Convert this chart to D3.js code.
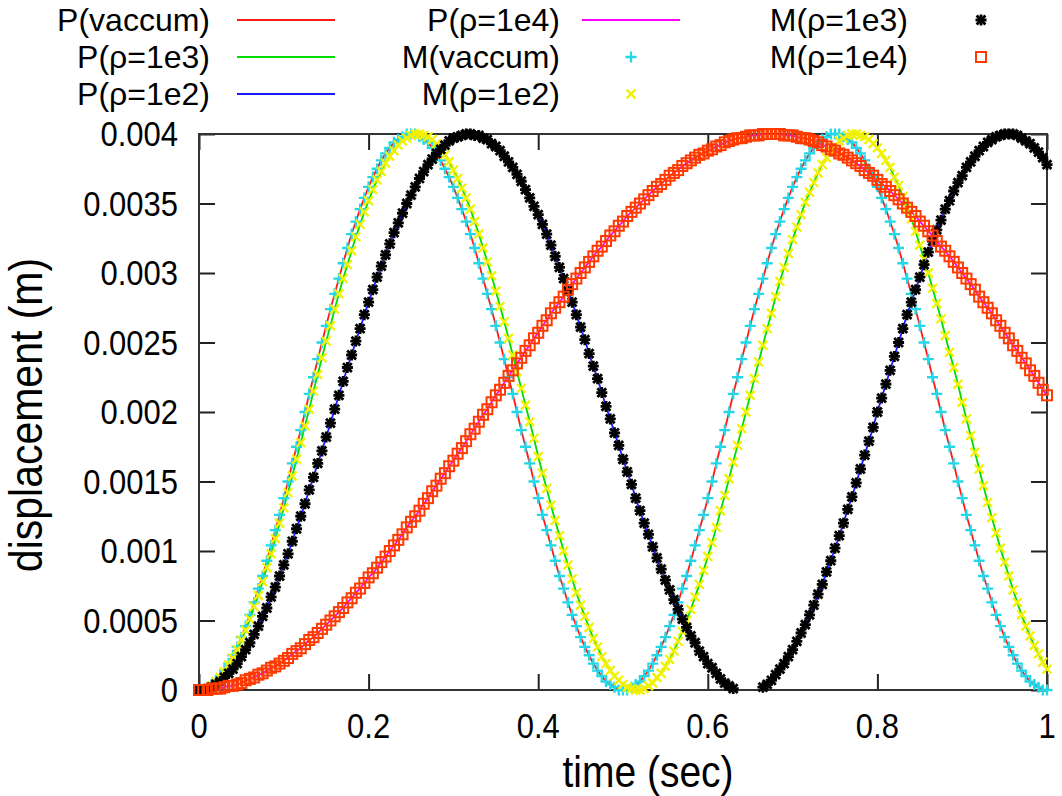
<!DOCTYPE html>
<html>
<head>
<meta charset="utf-8">
<title>displacement vs time</title>
<script src="https://cdn.jsdelivr.net/npm/d3@7"></script>
<style>
  body { margin: 0; background: #fff; }
  text { font-family: "Liberation Sans", Arial, sans-serif; fill: #000; }
</style>
</head>
<body>
<div id="my_dataviz"></div>
<script>

// time samples every 0.005 s from 0 to 1 s
var timeStep = 0.005;

// displacement, in mm (divided by 1000 before plotting)
// curve under the cyan "+" markers and the red line
var dispVacuum = [
  0.00,0.00,0.02,0.04,0.06,0.10,0.14,0.19,0.25,0.31,0.38,0.46,0.54,0.63,0.73,0.82,0.93,1.04,1.15,1.26,
  1.38,1.50,1.63,1.75,1.87,2.00,2.13,2.25,2.38,2.50,2.62,2.74,2.85,2.96,3.07,3.18,3.28,3.37,3.46,3.54,
  3.62,3.69,3.75,3.81,3.86,3.90,3.94,3.96,3.98,4.00,4.00,
  4.00,3.98,3.96,3.94,3.90,3.86,3.81,3.75,3.69,3.62,3.54,3.46,3.37,3.28,3.18,3.07,2.96,2.85,2.74,2.62,
  2.50,2.38,2.25,2.13,2.00,1.87,1.75,1.63,1.50,1.38,1.26,1.15,1.04,0.93,0.82,0.73,0.63,0.54,0.46,0.38,
  0.31,0.25,0.19,0.14,0.10,0.06,0.04,0.02,0.00,0.00,
  0.00,0.02,0.04,0.06,0.10,0.14,0.19,0.25,0.31,0.38,0.46,0.54,0.63,0.73,0.82,0.93,1.04,1.15,1.26,1.38,
  1.50,1.63,1.75,1.87,2.00,2.13,2.25,2.38,2.50,2.62,2.74,2.85,2.96,3.07,3.18,3.28,3.37,3.46,3.54,3.62,
  3.69,3.75,3.81,3.86,3.90,3.94,3.96,3.98,4.00,4.00,
  4.00,3.98,3.96,3.94,3.90,3.86,3.81,3.75,3.69,3.62,3.54,3.46,3.37,3.28,3.18,3.07,2.96,2.85,2.74,2.62,
  2.50,2.38,2.25,2.13,2.00,1.87,1.75,1.63,1.50,1.38,1.26,1.15,1.04,0.93,0.82,0.73,0.63,0.54,0.46,0.38,
  0.31,0.25,0.19,0.14,0.10,0.06,0.04,0.02,0.00,0.00
];

// curve under the yellow "x" markers and the green line
var dispRho1e2 = [
  0.00,0.00,0.01,0.03,0.06,0.09,0.13,0.18,0.23,0.29,0.36,
  0.43,0.51,0.60,0.68,0.78,0.88,0.98,1.09,1.20,1.31,
  1.42,1.54,1.66,1.78,1.90,2.02,2.15,2.27,2.39,2.51,
  2.62,2.74,2.85,2.96,3.06,3.16,3.26,3.35,3.44,3.52,
  3.60,3.67,3.73,3.79,3.84,3.88,3.92,3.95,3.97,3.99,
  4.00,4.00,3.99,3.98,3.96,3.93,3.89,3.85,3.80,3.74,
  3.68,3.61,3.54,3.46,3.37,3.28,3.18,3.08,2.98,2.87,
  2.76,2.65,2.53,2.41,2.29,2.17,2.05,1.93,1.81,1.68,
  1.56,1.45,1.33,1.22,1.11,1.00,0.90,0.80,0.70,0.61,
  0.53,0.45,0.37,0.31,0.24,0.19,0.14,0.10,0.07,0.04,
  0.02,0.01,0.00,0.00,0.01,0.03,0.05,0.09,0.12,0.17,
  0.22,0.28,0.35,0.42,0.50,0.58,0.67,0.76,0.86,0.96,
  1.06,1.17,1.29,1.40,1.52,1.64,1.76,1.88,2.00,2.12,
  2.24,2.36,2.48,2.60,2.71,2.83,2.94,3.04,3.14,3.24,
  3.33,3.42,3.51,3.58,3.65,3.72,3.78,3.83,3.88,3.91,
  3.95,3.97,3.99,4.00,4.00,3.99,3.98,3.96,3.93,3.90,
  3.86,3.81,3.76,3.69,3.63,3.55,3.47,3.39,3.30,3.20,
  3.10,3.00,2.89,2.78,2.67,2.55,2.43,2.32,2.20,2.07,
  1.95,1.83,1.71,1.59,1.47,1.35,1.24,1.13,1.02,0.92,
  0.82,0.72,0.63,0.54,0.46,0.39,0.32,0.26,0.20,0.15
];

// curve under the black "*" markers and the blue line
var dispRho1e3 = [
  0.00,0.00,0.01,0.02,0.04,0.06,0.09,0.12,0.15,0.19,0.24,
  0.29,0.34,0.40,0.46,0.53,0.59,0.67,0.74,0.82,0.90,
  0.98,1.07,1.16,1.25,1.34,1.44,1.53,1.63,1.72,1.82,
  1.92,2.02,2.12,2.22,2.32,2.41,2.51,2.60,2.70,2.79,
  2.88,2.97,3.05,3.13,3.21,3.29,3.36,3.43,3.50,3.56,
  3.62,3.68,3.73,3.78,3.82,3.86,3.89,3.92,3.95,3.97,
  3.98,3.99,4.00,4.00,3.99,3.99,3.97,3.96,3.93,3.91,
  3.88,3.84,3.80,3.76,3.71,3.66,3.60,3.54,3.48,3.42,
  3.35,3.28,3.20,3.12,3.04,2.96,2.87,2.79,2.70,2.61,
  2.52,2.42,2.33,2.24,2.14,2.04,1.95,1.85,1.76,1.66,
  1.57,1.48,1.38,1.29,1.20,1.12,1.03,0.95,0.87,0.79,
  0.72,0.65,0.58,0.51,0.45,0.39,0.34,0.28,0.24,0.19,
  0.16,0.12,0.08,0.05,0.03,0.01,-0.01,-0.02,-0.03,-0.03,
  -0.02,-0.01,0.02,0.04,0.07,0.11,0.15,0.19,0.24,0.29,
  0.35,0.41,0.47,0.54,0.61,0.69,0.76,0.85,0.93,1.02,
  1.11,1.20,1.30,1.39,1.49,1.59,1.69,1.79,1.89,2.00,
  2.10,2.20,2.30,2.40,2.50,2.60,2.70,2.79,2.88,2.97,
  3.06,3.15,3.23,3.31,3.38,3.46,3.52,3.59,3.65,3.70,
  3.76,3.80,3.84,3.88,3.91,3.94,3.96,3.98,3.99,4.00,
  4.00,4.00,3.99,3.97,3.95,3.93,3.90,3.87,3.83,3.78
];

// curve under the orange squares and the magenta line
var dispRho1e4 = [
  0.00,0.00,0.00,0.01,0.01,0.01,0.02,0.03,0.03,0.04,0.05,
  0.07,0.08,0.09,0.11,0.12,0.14,0.16,0.17,0.19,0.21,
  0.23,0.26,0.28,0.30,0.33,0.36,0.38,0.41,0.44,0.47,
  0.50,0.53,0.56,0.59,0.63,0.66,0.70,0.73,0.77,0.81,
  0.84,0.88,0.92,0.96,1.00,1.04,1.08,1.12,1.17,1.21,
  1.25,1.29,1.34,1.38,1.43,1.47,1.52,1.56,1.61,1.65,
  1.70,1.74,1.79,1.84,1.88,1.93,1.98,2.02,2.07,2.12,
  2.16,2.21,2.26,2.30,2.35,2.39,2.44,2.48,2.53,2.57,
  2.62,2.66,2.71,2.75,2.79,2.83,2.88,2.92,2.96,3.00,
  3.04,3.08,3.12,3.16,3.19,3.23,3.27,3.30,3.34,3.37,
  3.41,3.44,3.47,3.50,3.53,3.56,3.59,3.62,3.64,3.67,
  3.70,3.72,3.74,3.77,3.79,3.81,3.83,3.85,3.86,3.88,
  3.89,3.91,3.92,3.94,3.95,3.96,3.97,3.97,3.98,3.99,
  3.99,3.99,4.00,4.00,4.00,4.00,4.00,3.99,3.99,3.99,
  3.98,3.97,3.97,3.96,3.95,3.94,3.92,3.91,3.89,3.88,
  3.86,3.85,3.83,3.81,3.79,3.77,3.74,3.72,3.70,3.67,
  3.64,3.62,3.59,3.56,3.53,3.50,3.47,3.44,3.41,3.37,
  3.34,3.30,3.27,3.23,3.19,3.16,3.12,3.08,3.04,3.00,
  2.96,2.92,2.88,2.83,2.79,2.75,2.71,2.66,2.62,2.57,
  2.53,2.48,2.44,2.39,2.35,2.30,2.26,2.21,2.16,2.12
];

// tick labels
var xTicks = [0, 0.2, 0.4, 0.6, 0.8, 1];
var yTicks = [0, 0.0005, 0.001, 0.0015, 0.002, 0.0025, 0.003, 0.0035, 0.004];

// line series (legend column 1 and the first entry of column 2)
var lineSeries = [
  {label: "P(vaccum)", color: "#ff1a1a", data: dispVacuum},
  {label: "P(\u03c1=1e3)", color: "#00dd00", data: dispRho1e2},
  {label: "P(\u03c1=1e2)", color: "#1a1aff", data: dispRho1e3},
  {label: "P(\u03c1=1e4)", color: "#ff00ff", data: dispRho1e4}
];
// point series
var pointSeries = [
  {label: "M(vaccum)", color: "#22d8e8", shape: "plus", data: dispVacuum},
  {label: "M(\u03c1=1e2)", color: "#f2f200", shape: "cross", data: dispRho1e2},
  {label: "M(\u03c1=1e3)", color: "#000000", shape: "star", data: dispRho1e3},
  {label: "M(\u03c1=1e4)", color: "#ff3a00", shape: "square", data: dispRho1e4}
];

var W = 1062, H = 796;
var margin = {top: 134, right: 15, bottom: 106, left: 199},
    width = W - margin.left - margin.right,
    height = H - margin.top - margin.bottom;

var svg = d3.select("#my_dataviz")
  .append("svg")
    .attr("width", W)
    .attr("height", H);

var g = svg.append("g")
    .attr("transform", "translate(" + margin.left + "," + margin.top + ")");

var x = d3.scaleLinear().domain([0, 1]).range([0, width]);
var y = d3.scaleLinear().domain([0, 0.004]).range([height, 0]);

// turn a mm array into {t, v} points
function toPoints(arr) {
  return arr.map(function(d, i) { return {t: i * timeStep, v: d / 1000}; });
}

// text placed at (px,py); sy stretches it vertically (the picture's text is a bit tall)
function label(parent, px, py, str, size, anchor, rot, sy) {
  var tg = parent.append("g")
    .attr("transform", "translate(" + px + "," + py + ")" + (rot ? " rotate(" + rot + ")" : "") + " scale(1," + (sy || 1) + ")");
  tg.append("text")
    .attr("text-anchor", anchor)
    .attr("dy", "0.35em")
    .style("font-size", size + "px")
    .text(str);
  return tg;
}

// clip for the lines
svg.append("clipPath").attr("id", "plotclip")
  .append("rect").attr("width", width).attr("height", height);

// inward ticks on all four sides
var tickLen = 16;
var fmtY = function(d) { return d === 0 ? "0" : String(+d.toFixed(4)); };
var fmtX = function(d) { return String(+d.toFixed(1)); };

var axB = g.append("g").attr("transform", "translate(0," + height + ")")
  .call(d3.axisBottom(x).tickValues(xTicks).tickFormat("").tickSizeInner(-tickLen).tickSizeOuter(0));
var axT = g.append("g")
  .call(d3.axisTop(x).tickValues(xTicks).tickFormat("").tickSizeInner(-tickLen).tickSizeOuter(0));
var axL = g.append("g")
  .call(d3.axisLeft(y).tickValues(yTicks).tickFormat("").tickSizeInner(-tickLen).tickSizeOuter(0));
var axR = g.append("g").attr("transform", "translate(" + width + ",0)")
  .call(d3.axisRight(y).tickValues(yTicks).tickFormat("").tickSizeInner(-tickLen).tickSizeOuter(0));

[axB, axT, axL, axR].forEach(function(a) {
  a.select(".domain").remove();
  a.selectAll("line").attr("stroke", "#222").attr("stroke-width", 2);
  a.selectAll("text").remove();
});

// tick labels through the scales
xTicks.forEach(function(t) {
  label(g, x(t), height + 36, fmtX(t), 31, "middle", 0, 1.12);
});
yTicks.forEach(function(t) {
  label(g, -21, y(t), fmtY(t), 31, "end", 0, 1.12);
});

// frame
g.append("rect")
  .attr("width", width).attr("height", height)
  .attr("fill", "none").attr("stroke", "#333").attr("stroke-width", 2);

// axis titles
label(svg, 648, 772, "time (sec)", 39, "middle", 0, 1.12);
label(svg, 26, 415, "displacement (m)", 41, "middle", -90, 1.12);

// lines
var line = d3.line()
  .x(function(d) { return x(d.t); })
  .y(function(d) { return y(d.v); });

var plot = g.append("g");
plot.append("g").attr("clip-path", "url(#plotclip)")
  .selectAll("path")
  .data(lineSeries)
  .enter().append("path")
    .attr("fill", "none")
    .attr("stroke", function(d) { return d.color; })
    .attr("stroke-width", 1.8)
    .attr("d", function(d) { return line(toPoints(d.data)); });

// point markers, gnuplot style
var ms = 5.5;
function drawMarker(sel, shape, color) {
  var sw = shape === "star" ? 2.8 : 2.3;
  if (shape === "plus" || shape === "star") {
    sel.append("path").attr("d", "M" + (-ms) + ",0H" + ms + "M0," + (-ms) + "V" + ms)
      .attr("stroke", color).attr("stroke-width", sw);
  }
  if (shape === "cross" || shape === "star") {
    var c = ms * 0.8;
    sel.append("path").attr("d", "M" + (-c) + "," + (-c) + "L" + c + "," + c + "M" + (-c) + "," + c + "L" + c + "," + (-c))
      .attr("stroke", color).attr("stroke-width", sw);
  }
  if (shape === "square") {
    sel.append("rect").attr("x", -5).attr("y", -5).attr("width", 10).attr("height", 10)
      .attr("fill", "none").attr("stroke", color).attr("stroke-width", 2);
  }
}

pointSeries.forEach(function(s) {
  var pts = toPoints(s.data).filter(function(d) { return d.v >= 0 && d.v <= 0.004; });
  plot.append("g")
    .selectAll("g")
    .data(pts)
    .enter().append("g")
      .attr("transform", function(d) { return "translate(" + x(d.t) + "," + y(d.v) + ")"; })
      .each(function() { drawMarker(d3.select(this), s.shape, s.color); });
});

// legend: three columns
var legend = [
  {s: lineSeries[0], col: 0, row: 0},
  {s: lineSeries[1], col: 0, row: 1},
  {s: lineSeries[2], col: 0, row: 2},
  {s: lineSeries[3], col: 1, row: 0},
  {s: pointSeries[0], col: 1, row: 1},
  {s: pointSeries[1], col: 1, row: 2},
  {s: pointSeries[2], col: 2, row: 0},
  {s: pointSeries[3], col: 2, row: 1}
];
var colTextEnd = [210, 560, 908];
var colSample = [237, 582, 932];
var rowY = [20, 57, 94];

var lg = svg.append("g");
legend.forEach(function(e) {
  var yy = rowY[e.row];
  label(lg, colTextEnd[e.col], yy, e.s.label, 32, "end");
  if (e.s.shape) {
    var m = lg.append("g").attr("transform", "translate(" + (colSample[e.col] + 49) + "," + yy + ")");
    drawMarker(m, e.s.shape, e.s.color);
  } else {
    lg.append("line")
      .attr("x1", colSample[e.col]).attr("x2", colSample[e.col] + 98)
      .attr("y1", yy).attr("y2", yy)
      .attr("stroke", e.s.color).attr("stroke-width", 2);
  }
});

</script>
</body>
</html>
